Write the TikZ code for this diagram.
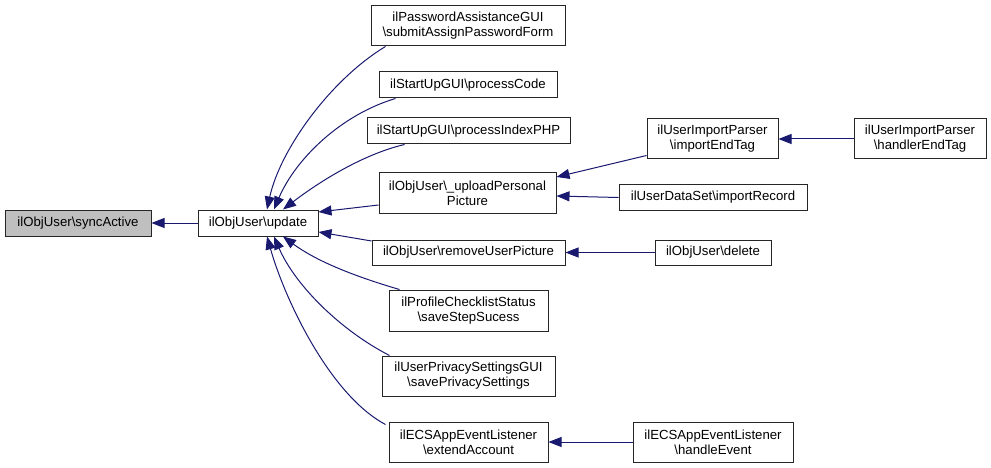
\documentclass[tikz,border=0pt]{standalone}
\usepackage{fontspec}
\setmainfont{Liberation Sans}
\usetikzlibrary{arrows.meta,calc}
\definecolor{edgeblue}{HTML}{191970}
\definecolor{hilite}{HTML}{BFBFBF}
\newcommand{\bs}{\textbackslash}
\begin{document}
\begin{tikzpicture}[x=1pt,y=-1pt,
  fn/.style={draw=black!85, line width=1pt, inner sep=0pt, align=center,
    font=\fontsize{13.2}{15}\selectfont},
  edge/.style={draw=edgeblue, line width=1pt, -{Triangle[length=13pt,width=10pt]}}]
\useasboundingbox (0,0) rectangle (991,468);
\node[fn, fill=hilite, minimum width=146pt, minimum height=26pt] (sync) at (78,223) {ilObjUser\bs syncActive};
\node[fn, minimum width=120pt, minimum height=26pt] (upd) at (258,223) {ilObjUser\bs update};
\node[fn, minimum width=194pt, minimum height=40pt] (sa) at (468,26) {ilPasswordAssistanceGUI\\\bs submitAssignPasswordForm};
\node[fn, minimum width=178pt, minimum height=26pt] (pc) at (468,85) {ilStartUpGUI\bs processCode};
\node[fn, minimum width=203pt, minimum height=26pt] (pi) at (468.5,131) {ilStartUpGUI\bs processIndexPHP};
\node[fn, minimum width=177pt, minimum height=40pt] (up) at (467.5,193) {ilObjUser\bs\_uploadPersonal\\Picture};
\node[fn, minimum width=193pt, minimum height=25pt] (ru) at (468.5,252.5) {ilObjUser\bs removeUserPicture};
\node[fn, minimum width=159pt, minimum height=41pt] (ss) at (468.5,310.5) {ilProfileChecklistStatus\\\bs saveStepSucess};
\node[fn, minimum width=173pt, minimum height=40pt] (sp) at (468.5,376) {ilUserPrivacySettingsGUI\\\bs savePrivacySettings};
\node[fn, minimum width=159pt, minimum height=40pt] (ea) at (468.5,442) {ilECSAppEventListener\\\bs extendAccount};
\node[fn, minimum width=131pt, minimum height=40pt] (iet) at (712.5,139) {ilUserImportParser\\\bs importEndTag};
\node[fn, minimum width=132pt, minimum height=40pt] (het) at (920,139) {ilUserImportParser\\\bs handlerEndTag};
\node[fn, minimum width=188pt, minimum height=25pt] (ir) at (713,197.5) {ilUserDataSet\bs importRecord};
\node[fn, minimum width=116pt, minimum height=25pt] (del) at (713,252.5) {ilObjUser\bs delete};
\node[fn, minimum width=160pt, minimum height=40pt] (he) at (713,442) {ilECSAppEventListener\\\bs handleEvent};

\draw[edge] (upd.west) -- (sync.east);
\draw[edge] ($(sa.south west)+(15,0)$) .. controls (330,80) and (280,150) .. ($(upd.north)+(9,0)$);
\draw[edge] ($(pc.south west)+(17,0)$) .. controls (340,115) and (295,160) .. ($(upd.north)+(16,0)$);
\draw[edge] ($(pi.south west)+(38,0)$) .. controls (360,155) and (315,185) .. ($(upd.north)+(25,0)$);
\draw[edge] ($(up.west)+(0,12)$) -- ($(upd.east)+(0,-11)$);
\draw[edge] ($(ru.west)+(0,-11.5)$) -- ($(upd.east)+(0,9)$);
\draw[edge] ($(ss.north west)+(11,0)$) .. controls (350,275) and (315,260) .. ($(upd.south)+(25,0)$);
\draw[edge] ($(sp.north west)+(8,0)$) .. controls (340,330) and (295,285) .. ($(upd.south)+(16,0)$);
\draw[edge] ($(ea.north west)+(-3,3)$) .. controls (330,395) and (285,300) .. ($(upd.south)+(9,0)$);
\draw[edge] ($(iet.south west)+(0,-4)$) -- ($(up.east)+(0,-16)$);
\draw[edge] (ir.west) -- ($(up.east)+(0,3)$);
\draw[edge] (del.west) -- (ru.east);
\draw[edge] (het.west) -- (iet.east);
\draw[edge] (he.west) -- (ea.east);
\end{tikzpicture}
\end{document}
